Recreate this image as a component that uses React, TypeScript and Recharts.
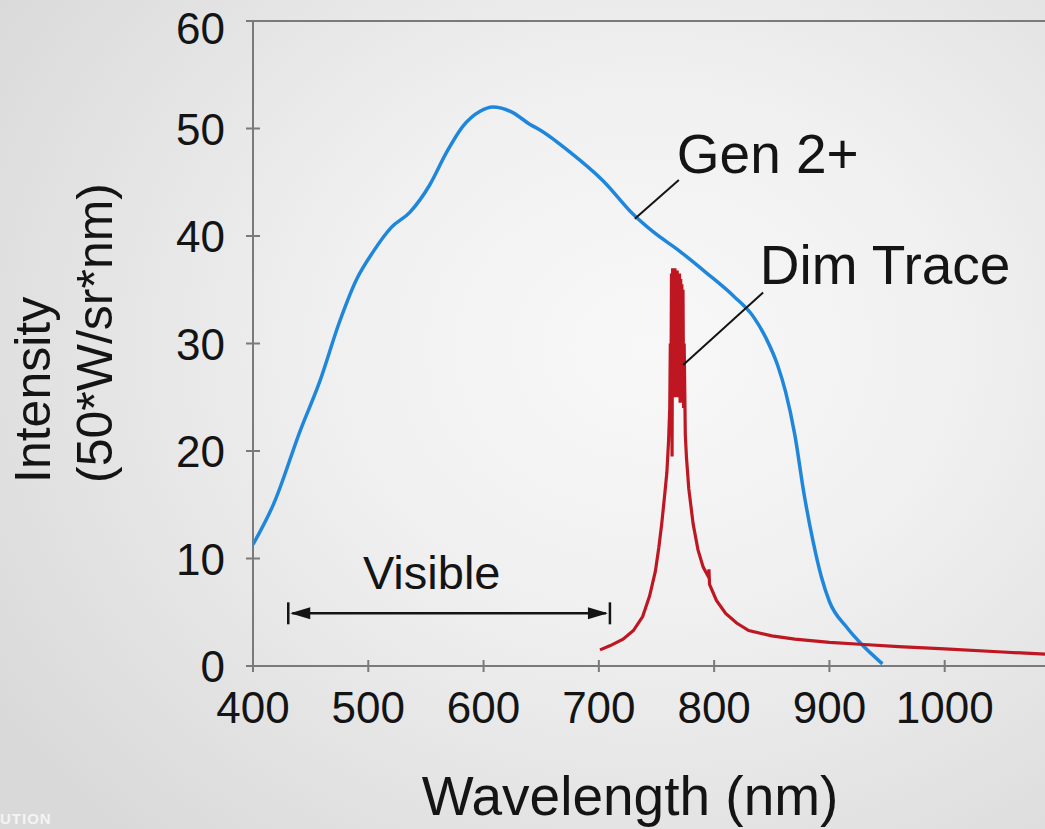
import React from 'react';
import {
    LineChart,
    Line,
    XAxis,
    YAxis,
    ReferenceLine,
    ReferenceDot,
} from 'recharts';

// axis ticks
const WAVELENGTH_TICKS = [400, 500, 600, 700, 800, 900, 1000];
const INTENSITY_TICKS = [0, 10, 20, 30, 40, 50, 60];

// Gen 2+ spectrum
const GEN2_NM = [400, 418, 441, 458, 475, 490, 504, 520, 536, 553, 568, 582, 597, 608, 625, 640, 650, 675, 704, 730, 747, 770, 793, 817, 834, 845, 855, 862, 870, 878, 886, 893, 900, 915, 929, 946];
const GEN2_INTENSITY = [11.3, 15.1, 21.9, 26.5, 32, 36, 38.5, 40.8, 42.2, 44.7, 47.8, 50.2, 51.6, 52, 51.5, 50.4, 49.8, 47.8, 45.1, 42, 40.4, 38.6, 36.6, 34.4, 32.5, 30.5, 28, 25.5, 21.5, 16, 11.5, 8.3, 6, 3.6, 1.9, 0.2];

// Dim Trace spectrum (noisy peak near 767 nm)
const DIM_NM = [701, 710, 721, 730, 738, 744, 749, 752, 754.5, 757, 759, 760.5, 761.5, 762, 762.5, 763, 763.5, 764, 764.5, 765, 765.5, 766, 766.5, 767, 767.5, 768, 768.5, 769, 769.5, 770, 770.5, 771, 771.5, 772, 772.5, 773, 773.5, 774, 775, 776, 778, 781.8, 786, 790.5, 795, 795.5, 796, 802, 810, 819.5, 830, 850, 870, 900, 930, 960, 1000, 1050, 1087];
const DIM_INTENSITY = [1.5, 1.9, 2.5, 3.3, 4.6, 6.5, 8.8, 11, 13.2, 15.8, 18, 21, 24, 30, 25, 36.5, 19.5, 37, 25, 37, 26, 37, 25, 36.8, 25.5, 36.8, 25, 36.5, 25, 36.5, 24.5, 36, 24.5, 35.5, 25, 35, 24, 30, 21.5, 19.4, 16.5, 13.2, 10.8, 9.2, 8.3, 9.0, 7.6, 6.1, 4.9, 4.0, 3.3, 2.8, 2.5, 2.2, 2.0, 1.8, 1.6, 1.3, 1.1];

const gen2Data = GEN2_NM.map((nm, i) => ({ nm, intensity: GEN2_INTENSITY[i] }));
const dimData = DIM_NM.map((nm, i) => ({ nm, intensity: DIM_INTENSITY[i] }));

const FONT = "'Liberation Sans', Arial, Helvetica, sans-serif";
const AXIS_GREY = '#7a7a7a';
const BLUE = '#1f87db';
const RED = '#bf1722';
const INK = '#141414';

// top label sits a little lower than its tick, like the original slide
const YTick = ({ x, y, payload }: any) => (
    <g>
        <line x1={x - 7} y1={y} x2={x + 7} y2={y} stroke={AXIS_GREY} strokeWidth={2} />
        <text x={x - 28} y={Math.max(y + 16, 44)} textAnchor="end" fontSize={44} fontFamily={FONT} fill={INK}>
            {payload.value}
        </text>
    </g>
);

const XTick = ({ x, y, payload }: any) => (
    <g>
        <line x1={x} y1={y - 6} x2={x} y2={y + 6} stroke={AXIS_GREY} strokeWidth={2} />
        <text x={x} y={y + 57} textAnchor="middle" fontSize={44} fontFamily={FONT} fill={INK}>
            {payload.value}
        </text>
    </g>
);

const YTitle = () => (
    <text transform="rotate(-90)" fontSize={50} fontFamily={FONT} fill={INK} textAnchor="start">
        <tspan x={-483} y={50}>Intensity</tspan>
        <tspan x={-483} y={112}>(50*W/sr*nm)</tspan>
    </text>
);

const XTitle = () => (
    <text x={630} y={815} textAnchor="middle" fontSize={55} fontFamily={FONT} fill={INK}>
        Wavelength (nm)
    </text>
);

// double-headed range arrow with end bars
const RangeArrow = ({ x1, y1, x2 }: any) => {
    const y = Number(y1);
    const a = Number(x1);
    const b = Number(x2);
    return (
        <g>
            <line x1={a} y1={y - 11} x2={a} y2={y + 11} stroke={INK} strokeWidth={2.5} />
            <line x1={b} y1={y - 11} x2={b} y2={y + 11} stroke={INK} strokeWidth={2.5} />
            <line x1={a + 4} y1={y} x2={b - 4} y2={y} stroke={INK} strokeWidth={2.5} />
            <polygon points={`${a + 2},${y} ${a + 22},${y - 6} ${a + 22},${y + 6}`} fill={INK} />
            <polygon points={`${b - 2},${y} ${b - 22},${y - 6} ${b - 22},${y + 6}`} fill={INK} />
        </g>
    );
};

const Note = (text: string, size: number, anchor: 'start' | 'middle') => (p: any) => (
    <text x={p.cx} y={p.cy} textAnchor={anchor} fontSize={size} fontFamily={FONT} fill={INK}>
        {text}
    </text>
);

export default function App() {
    return (
        <div
            style={{
                position: 'absolute',
                left: 0,
                top: 0,
                width: 1045,
                height: 829,
                overflow: 'hidden',
                background: 'radial-gradient(ellipse 75% 80% at 62% 42%, #f8f8f8 0%, #f0f0f0 40%, #d9d9d9 100%)',
            }}
        >
            <LineChart width={1045} height={829} margin={{ top: 21, right: 0, bottom: 0, left: 0 }}>
                <XAxis
                    dataKey="nm"
                    type="number"
                    domain={[400, 1087]}
                    allowDataOverflow
                    ticks={WAVELENGTH_TICKS}
                    interval={0}
                    height={163}
                    tickSize={0}
                    tickMargin={0}
                    tickLine={false}
                    axisLine={{ stroke: AXIS_GREY, strokeWidth: 2 }}
                    tick={<XTick />}
                    label={{ content: () => <XTitle /> }}
                />
                <YAxis
                    type="number"
                    domain={[0, 60]}
                    ticks={INTENSITY_TICKS}
                    interval={0}
                    width={253}
                    tickSize={0}
                    tickMargin={0}
                    tickLine={false}
                    axisLine={{ stroke: AXIS_GREY, strokeWidth: 2 }}
                    tick={<YTick />}
                    label={{ content: () => <YTitle /> }}
                />
                <ReferenceLine y={60} stroke={AXIS_GREY} strokeWidth={2} />

                <Line
                    data={gen2Data}
                    dataKey="intensity"
                    type="monotone"
                    stroke={BLUE}
                    strokeWidth={3.5}
                    dot={false}
                    activeDot={false}
                    isAnimationActive={false}
                />
                <Line
                    data={dimData}
                    dataKey="intensity"
                    type="linear"
                    stroke={RED}
                    strokeWidth={3.2}
                    dot={false}
                    activeDot={false}
                    isAnimationActive={false}
                />

                {/* leader lines */}
                <ReferenceLine segment={[{ x: 769.4, y: 45.2 }, { x: 731.2, y: 41.6 }]} stroke={INK} strokeWidth={2} />
                <ReferenceLine segment={[{ x: 842.5, y: 34.75 }, { x: 773.1, y: 28 }]} stroke={INK} strokeWidth={2} />

                {/* visible range */}
                <ReferenceLine segment={[{ x: 430.6, y: 4.9 }, { x: 709.6, y: 4.9 }]} shape={RangeArrow} />

                <ReferenceDot x={767.6} y={45.9} r={0} shape={Note('Gen 2+', 55, 'start')} />
                <ReferenceDot x={839.6} y={35.56} r={0} shape={Note('Dim Trace', 55, 'start')} />
                <ReferenceDot x={555} y={7.2} r={0} shape={Note('Visible', 47, 'middle')} />
            </LineChart>
            <div
                style={{
                    position: 'absolute',
                    left: 0,
                    top: 810,
                    fontFamily: FONT,
                    fontSize: 15,
                    lineHeight: '17px',
                    fontWeight: 'bold',
                    color: '#f4f4f4',
                    letterSpacing: 1,
                }}
            >
                UTION
            </div>
        </div>
    );
}
